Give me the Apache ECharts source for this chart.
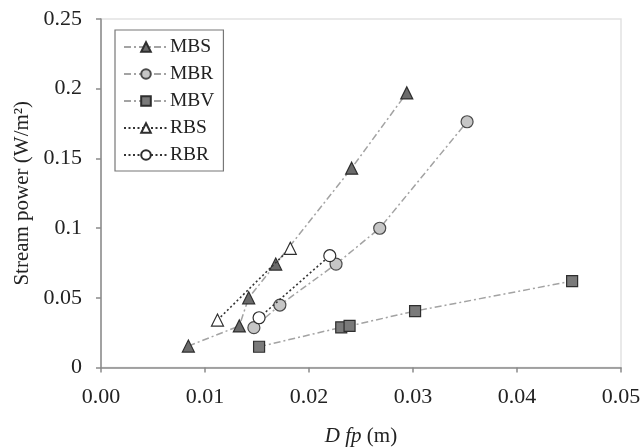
<!DOCTYPE html>
<html><head><meta charset="utf-8">
<script src="https://cdn.jsdelivr.net/npm/echarts@6/dist/echarts.min.js"></script>
<style>html,body{margin:0;padding:0;background:#fff}#c{width:641px;height:448px}</style>
</head><body><div id="c"></div>
<script>
// Data (Dfp in m, stream power in W/m2)
const MBS = [[0.0084,0.0154],[0.0133,0.0298],[0.0142,0.050],[0.0168,0.0742],[0.0241,0.143],[0.0294,0.197]];
const MBR = [[0.0147,0.0286],[0.0172,0.0448],[0.0226,0.0742],[0.0268,0.0999],[0.0352,0.1763]];
const MBV = [[0.0152,0.0149],[0.0231,0.0288],[0.0239,0.0298],[0.0302,0.0405],[0.0453,0.062]];
const RBS = [[0.0112,0.034],[0.0182,0.0855]];
const RBR = [[0.0152,0.0357],[0.0220,0.0802]];
const seriesNames = ['MBS','MBR','MBV','RBS','RBR'];
const xTicks = [0,0.01,0.02,0.03,0.04,0.05];
const yTicks = [0,0.05,0.1,0.15,0.2,0.25];

const font = 'Liberation Serif';
const dashDot = {color:'#a3a3a3', width:1.5, type:[7,3,2,3]};
const dotted = {color:'#333', width:1.6, type:[2,2.5]};
function mk(name, data, symbol, fill, border, line){
  return {name, type:'line', data, symbol, symbolSize: symbol==='triangle'?12:(symbol==='rect'?11:12),
    lineStyle: line, itemStyle:{color:fill, borderColor:border, borderWidth:1.2},
    emphasis:{disabled:true}, z: line===dotted?3:2};
}
const chart = echarts.init(document.getElementById('c'), null, {renderer:'canvas'});
chart.setOption({
  animation:false,
  textStyle:{fontFamily:font},
  grid:{left:101, top:19, right:20, bottom:80.5, containLabel:false, outerBoundsMode:'none',
        show:true, borderColor:'#e2e2e2', borderWidth:1.5},
  legend:{
    left:115, top:30, orient:'vertical', data:seriesNames,
    backgroundColor:'#fff', borderColor:'#777', borderWidth:1.2,
    padding:[7,9,6,8], itemWidth:44, itemHeight:12, itemGap:7,
    textStyle:{fontFamily:font, fontSize:19.5, color:'#222', padding:[0,0,0,-3]}
  },
  xAxis:{
    type:'value', min:xTicks[0], max:xTicks[xTicks.length-1], interval:0.01,
    name:'{i|D fp} (m)', nameLocation:'middle', nameGap:58,
    nameTextStyle:{fontFamily:font, fontSize:21, color:'#222', rich:{i:{fontFamily:font, fontSize:21, fontStyle:'italic', color:'#222'}}},
    axisLine:{lineStyle:{color:'#8a8a8a', width:1.5}},
    axisTick:{show:true, length:5, lineStyle:{color:'#8a8a8a', width:1.5}},
    axisLabel:{fontFamily:font, fontSize:22, color:'#222', margin:19, formatter:v=>v.toFixed(2)},
    splitLine:{show:false}
  },
  yAxis:{
    type:'value', min:yTicks[0], max:yTicks[yTicks.length-1], interval:0.05,
    name:'Stream power (W/m²)', nameLocation:'middle', nameGap:68, nameRotate:90,
    nameTextStyle:{fontFamily:font, fontSize:21, color:'#222'},
    axisLine:{lineStyle:{color:'#8a8a8a', width:1.5}},
    axisTick:{show:true, length:5, lineStyle:{color:'#8a8a8a', width:1.5}},
    axisLabel:{fontFamily:font, fontSize:22, color:'#222', margin:19},
    splitLine:{show:false}
  },
  series:[
    mk('MBS', MBS, 'triangle', '#6b6b6b', '#2e2e2e', dashDot),
    mk('MBR', MBR, 'circle', '#c6c6c6', '#4a4a4a', dashDot),
    mk('MBV', MBV, 'rect', '#7a7a7a', '#2e2e2e', dashDot),
    mk('RBS', RBS, 'triangle', '#ffffff', '#2e2e2e', dotted),
    mk('RBR', RBR, 'circle', '#ffffff', '#2e2e2e', dotted)
  ]
});
</script></body></html>
